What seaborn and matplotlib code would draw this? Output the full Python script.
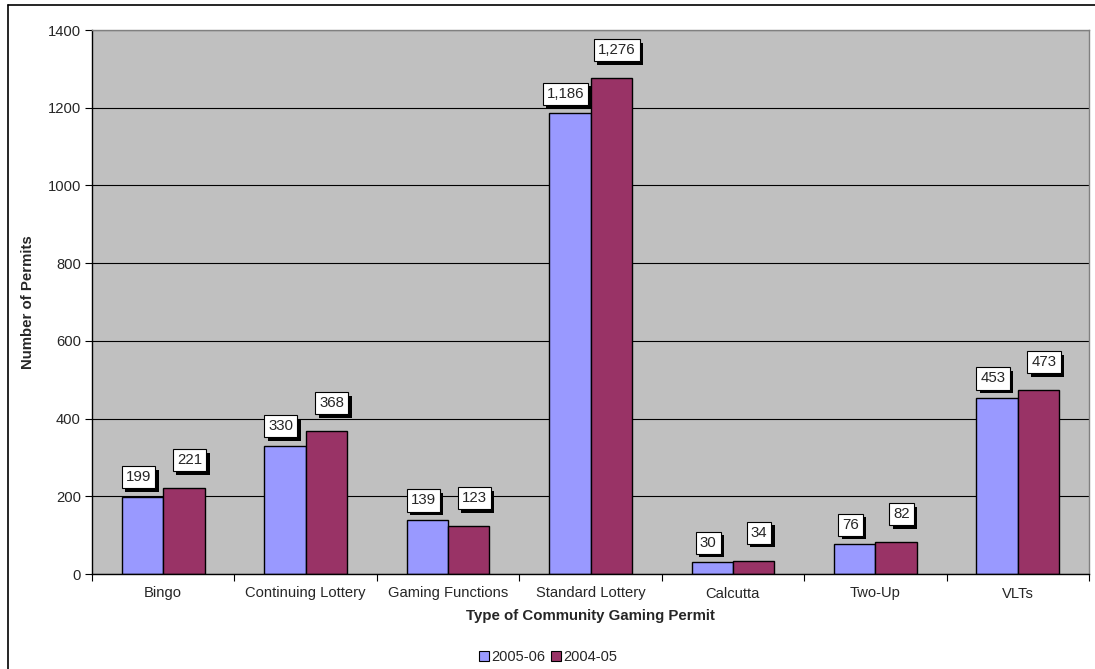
import matplotlib
matplotlib.use("Agg")
import matplotlib.pyplot as plt
import matplotlib.patheffects as pe
from matplotlib.lines import Line2D
import pandas as pd
import seaborn as sns

# Community gaming permits issued, by permit type
categories = ["Bingo", "Continuing Lottery", "Gaming Functions", "Standard Lottery",
              "Calcutta", "Two-Up", "VLTs"]
permits_2005_06 = [199, 330, 139, 1186, 30, 76, 453]
permits_2004_05 = [221, 368, 123, 1276, 34, 82, 473]
series_names = ["2005-06", "2004-05"]
y_ticks = [0, 200, 400, 600, 800, 1000, 1200, 1400]

df = pd.DataFrame({
    "Type": categories * 2,
    "Permits": permits_2005_06 + permits_2004_05,
    "Year": [series_names[0]] * len(categories) + [series_names[1]] * len(categories),
})

sns.set_theme(style="white")
plt.rcParams["font.family"] = ["Liberation Sans", "DejaVu Sans"]

palette = {"2005-06": "#9999FF", "2004-05": "#993366"}

fig = plt.figure(figsize=(10.95, 6.69), dpi=100)
ax = fig.add_axes([92 / 1095, 1 - 574 / 669, (1089 - 92) / 1095, (574 - 30) / 669])

sns.barplot(data=df, x="Type", y="Permits", hue="Year", order=categories,
            hue_order=series_names, palette=palette, width=0.58, gap=0,
            edgecolor="black", linewidth=1.0, saturation=1, ax=ax, legend=False)

ax.set_facecolor("#C0C0C0")
ax.set_ylim(0, 1400)
ax.set_xlim(-0.5, len(categories) - 0.5)
ax.set_yticks(y_ticks)
ax.yaxis.grid(True, color="black", linewidth=0.8)
ax.set_axisbelow(True)

# Category ticks sit between groups; labels are centred under each group
ax.set_xticks([i + 0.5 for i in range(-1, len(categories))])
ax.set_xticklabels([])
ax.set_xticks(range(len(categories)), minor=True)
ax.set_xticklabels(categories, minor=True, fontsize=10.6)
ax.tick_params(axis="x", which="major", direction="out", length=5, width=0.8,
               color="black", bottom=True)
ax.tick_params(axis="x", which="minor", length=0, pad=9)
ax.tick_params(axis="y", direction="out", length=5, width=0.8, color="black",
               left=True, labelsize=10.6, pad=3)

for side in ("top", "right"):
    ax.spines[side].set_color("#808080")
    ax.spines[side].set_linewidth(1.0)
for side in ("left", "bottom"):
    ax.spines[side].set_color("black")
    ax.spines[side].set_linewidth(1.0)

ax.set_xlabel("Type of Community Gaming Permit", fontsize=10.8, fontweight="bold",
              labelpad=6)
ax.set_ylabel("Number of Permits", fontsize=10.8, fontweight="bold", labelpad=9)

# Boxed value labels with a drop shadow
shadow = [pe.SimplePatchShadow(offset=(2.5, -2.5), shadow_rgbFace="black", alpha=1.0),
          pe.Normal()]
label_offsets = {"2005-06": (-3, 9), "2004-05": (4, 15)}
for container, name in zip(ax.containers, series_names):
    dx, dy = label_offsets[name]
    for bar in container:
        value = bar.get_height()
        t = ax.annotate(f"{int(value):,}",
                        xy=(bar.get_x() + bar.get_width() / 2, value),
                        xytext=(dx, dy), textcoords="offset points",
                        ha="center", va="bottom", fontsize=10.8,
                        bbox=dict(boxstyle="square,pad=0.27", fc="white",
                                  ec="black", lw=0.8))
        t.get_bbox_patch().set_path_effects(shadow)

handles = [Line2D([0], [0], marker="s", linestyle="none", markersize=7.5,
                  markerfacecolor=palette[n], markeredgecolor="black",
                  markeredgewidth=0.8) for n in series_names]
fig.legend(handles, series_names, loc="center", bbox_to_anchor=(0.5, 1 - 657 / 669),
           ncol=2, frameon=False, fontsize=10.5, handletextpad=0.05, columnspacing=0.3,
           handlelength=0.9)

# Chart-area border
fig.add_artist(Line2D([8 / 1095, 8 / 1095], [0, 1 - 5 / 669], transform=fig.transFigure,
                      color="black", linewidth=1.2))
fig.add_artist(Line2D([8 / 1095, 1], [1 - 5 / 669, 1 - 5 / 669], transform=fig.transFigure,
                      color="black", linewidth=1.2))

fig.savefig("out.png", dpi=100, facecolor="white")
